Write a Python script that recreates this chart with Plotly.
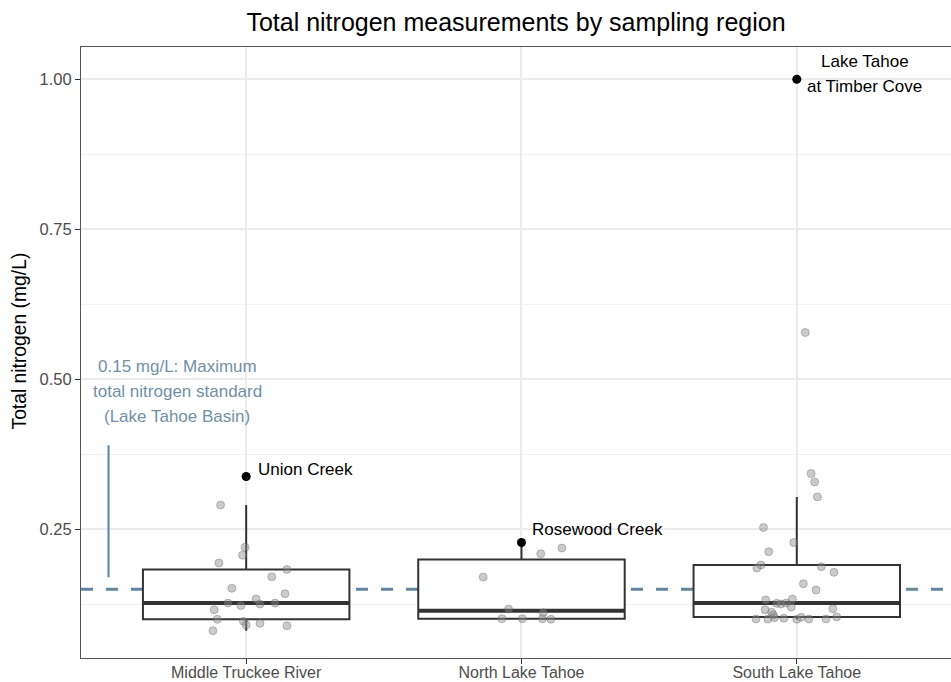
import numpy as np
import plotly.graph_objects as go

# Sampling regions (x categories)
regions = ["Middle Truckee River", "North Lake Tahoe", "South Lake Tahoe"]

# Total nitrogen (mg/L) at unlabeled sites, with the horizontal jitter used for each point
middle_tn = [0.2905, 0.220, 0.2067, 0.1938, 0.183, 0.171, 0.1517, 0.1427, 0.134, 0.127,
             0.123, 0.1255, 0.127, 0.116, 0.100, 0.0967, 0.0905, 0.0933, 0.0893, 0.081]
middle_jit = [-0.093, -0.004, -0.013, -0.099, 0.148, 0.093, -0.052, 0.141, 0.036, -0.066,
              -0.019, 0.050, 0.105, -0.116, -0.105, -0.010, 0.0, 0.050, 0.148, -0.121]

north_tn = [0.2093, 0.2188, 0.1705, 0.1172, 0.111, 0.101, 0.101, 0.101, 0.100]
north_jit = [0.070, 0.147, -0.139, -0.047, 0.079, -0.071, 0.003, 0.076, 0.107]

south_tn = [0.578, 0.343, 0.329, 0.304, 0.253, 0.228, 0.2127, 0.1905, 0.1855, 0.1877,
            0.1783, 0.1593, 0.1488, 0.1322, 0.1267, 0.1255, 0.127, 0.1338, 0.1205, 0.116,
            0.1117, 0.1072, 0.1177, 0.104, 0.1005, 0.1005, 0.1027, 0.1017, 0.100, 0.1033,
            0.1005, 0.1005]
south_jit = [0.031, 0.052, 0.065, 0.075, -0.121, -0.011, -0.102, -0.130, -0.145, 0.089,
             0.135, 0.024, 0.070, -0.113, -0.073, -0.058, -0.039, -0.016, -0.020, -0.115,
             -0.091, -0.085, 0.131, 0.145, -0.148, -0.105, -0.081, -0.047, 0.0, 0.016,
             0.044, 0.106]

# Highlighted sites (one per region)
site_names = ["Union Creek", "Rosewood Creek", "Lake Tahoe at Timber Cove"]
site_region = [0, 1, 2]
site_tn = [0.338, 0.228, 1.00]

# Maximum total nitrogen standard for the Lake Tahoe Basin (mg/L)
standard_tn = 0.15
standard_text = ["0.15 mg/L: Maximum", "total nitrogen standard", "(Lake Tahoe Basin)"]

y_ticks = [0.25, 0.50, 0.75, 1.00]
y_minor = [0.125, 0.375, 0.625, 0.875]

FONT = "Liberation Sans, Arial, Helvetica, sans-serif"
BOX_LINE = "#333333"
NOTE_TEXT = "#6F90A8"
NOTE_LINE = "#4F83B5"
DASH_LINE = "#5F87A2"

values = [middle_tn, north_tn, south_tn]
jitters = [middle_jit, north_jit, south_jit]

# Tukey box statistics (type-7 quantiles, 1.5 IQR whiskers) over every site in a region
q1s, meds, q3s, lows, highs = [], [], [], [], []
for i, vals in enumerate(values):
    allv = np.array(vals + [t for t, r in zip(site_tn, site_region) if r == i])
    q1, med, q3 = np.percentile(allv, [25, 50, 75])
    iqr = q3 - q1
    q1s.append(q1)
    meds.append(med)
    q3s.append(q3)
    lows.append(allv[allv >= q1 - 1.5 * iqr].min())
    highs.append(allv[allv <= q3 + 1.5 * iqr].max())

fig = go.Figure()

fig.add_trace(go.Box(
    x=[0, 1, 2], q1=q1s, median=meds, q3=q3s, lowerfence=lows, upperfence=highs,
    width=0.75, whiskerwidth=0, boxpoints=False,
    fillcolor="white", line=dict(color=BOX_LINE, width=2),
    hoverinfo="skip", showlegend=False,
))

# Heavier median bars
mx, my = [], []
for i, m in enumerate(meds):
    mx += [i - 0.375, i + 0.375, None]
    my += [m, m, None]
fig.add_trace(go.Scatter(x=mx, y=my, mode="lines",
                         line=dict(color=BOX_LINE, width=4),
                         hoverinfo="skip", showlegend=False))

# Jittered site measurements
for i, (vals, jit) in enumerate(zip(values, jitters)):
    fig.add_trace(go.Scatter(
        x=[i + j for j in jit], y=vals, mode="markers",
        marker=dict(size=8, color="rgba(140,140,140,0.45)",
                    line=dict(color="rgba(90,90,90,0.35)", width=1)),
        showlegend=False, hoverinfo="y",
    ))

# Highlighted sites
fig.add_trace(go.Scatter(
    x=site_region, y=site_tn, mode="markers",
    marker=dict(size=9, color="black"),
    text=site_names, showlegend=False, hoverinfo="text+y",
))

annotations = []
# Site labels
label_style = {
    "Union Creek": dict(lines=["Union Creek"], xshift=10, yshift=7, xanchor="left"),
    "Rosewood Creek": dict(lines=["Rosewood Creek"], xshift=9, yshift=13, xanchor="left"),
    "Lake Tahoe at Timber Cove": dict(lines=["Lake Tahoe", "at Timber Cove"],
                                      xshift=68, yshift=5, xanchor="center"),
}
for name, r, v in zip(site_names, site_region, site_tn):
    st = label_style[name]
    n = len(st["lines"])
    for k, line in enumerate(st["lines"]):
        annotations.append(dict(
            x=r, y=v, xref="x", yref="y", text=line, showarrow=False,
            xanchor=st["xanchor"], yanchor="middle",
            xshift=st["xshift"], yshift=st["yshift"] + ((n - 1) / 2 - k) * 25,
            font=dict(family=FONT, size=17, color="black"),
        ))

# Standard note
for k, line in enumerate(standard_text):
    annotations.append(dict(
        x=-0.25, y=0.479, xref="x", yref="y", text=line, showarrow=False,
        xanchor="center", yanchor="middle", yshift=(1 - k) * 25,
        font=dict(family=FONT, size=17, color=NOTE_TEXT),
    ))

# Y axis title
annotations.append(dict(
    x=0, y=0.5, xref="paper", yref="paper", text="Total nitrogen (mg/L)",
    showarrow=False, textangle=-90, xanchor="center", yanchor="middle",
    xshift=-62, yshift=11, font=dict(family=FONT, size=19.3, color="black"),
))

shapes = [
    dict(type="line", xref="paper", yref="y", x0=0, x1=1, y0=standard_tn, y1=standard_tn,
         line=dict(color=DASH_LINE, width=3, dash="12px,13px"), layer="below"),
    dict(type="line", xref="x", yref="y", x0=-0.5, x1=-0.5, y0=0.17, y1=0.39,
         line=dict(color=NOTE_LINE, width=2), layer="above"),
]

fig.update_layout(
    width=951, height=682,
    margin=dict(l=81, r=0, t=47, b=24, autoexpand=False),
    paper_bgcolor="white", plot_bgcolor="white",
    font=dict(family=FONT, color="#4D4D4D"),
    title=dict(text="Total nitrogen measurements by sampling region",
               x=516 / 951, xanchor="center", y=1 - 22 / 682, yanchor="middle",
               font=dict(family=FONT, size=25, color="black")),
    annotations=annotations, shapes=shapes,
    showlegend=False,
)

fig.update_xaxes(
    range=[-0.6, -0.6 + 870 / 275.3], tickvals=[0, 1, 2], ticktext=regions,
    showgrid=True, gridcolor="#EBEBEB", gridwidth=1.5, zeroline=False,
    showline=True, linecolor="#555555", linewidth=1, mirror=True,
    ticks="outside", ticklen=5, tickcolor="#333333", tickwidth=1,
    ticklabelstandoff=-5,
    tickfont=dict(family=FONT, size=16, color="#4D4D4D"),
)
fig.update_yaxes(
    range=[(679.3 - 658) / 600, (679.3 - 47) / 600],
    tickvals=y_ticks, ticktext=[f"{v:.2f}" for v in y_ticks],
    showgrid=True, gridcolor="#EBEBEB", gridwidth=1.5, zeroline=False,
    minor=dict(tickvals=y_minor, showgrid=True, gridcolor="#F2F2F2", gridwidth=1, ticks=""),
    showline=True, linecolor="#555555", linewidth=1, mirror=True,
    ticks="outside", ticklen=5, tickcolor="#333333", tickwidth=1,
    tickfont=dict(family=FONT, size=16.5, color="#4D4D4D"),
)

fig.write_html("out.html")
